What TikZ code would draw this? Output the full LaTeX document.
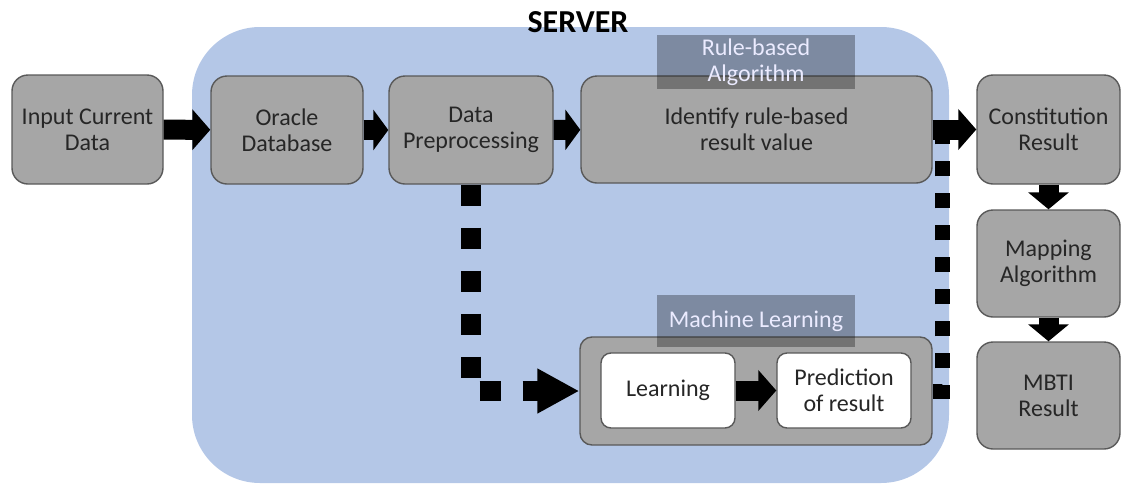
\documentclass[tikz,border=0pt]{standalone}
\usepackage{fontspec}
\setmainfont{Carlito}
\usetikzlibrary{arrows.meta}
\definecolor{srvblue}{HTML}{B4C7E7}
\definecolor{boxgray}{HTML}{A6A6A6}
\definecolor{edgegray}{HTML}{595959}
\tikzset{
  box/.style={draw=edgegray, line width=0.7pt, fill=boxgray, rounded corners=8pt, align=center, inner sep=0pt, text=black!85, font=\fontsize{12}{13}\selectfont},
  wbox/.style={box, fill=white, rounded corners=5pt},
  tag/.style={fill=black, fill opacity=0.3, text opacity=1, text=white!92!blue, align=center, inner sep=0pt, font=\fontsize{12}{13}\selectfont},
  blk/.style={line width=10pt, -{Triangle[length=9pt,width=20pt]}},
  dots/.style={line width=10pt, dash pattern=on 10.5pt off 11pt},
}
\begin{document}
\begin{tikzpicture}[x=0.5pt,y=-0.5pt]
\useasboundingbox (0,0) rectangle (1126,483);
% server area
\fill [srvblue, rounded corners=34pt] (192,27) rectangle (949,483);
\node (srv) at (578,22) {\fontsize{16}{16}\selectfont\bfseries SERVER};

\node (in) [box, minimum width=75.5pt, minimum height=54.5pt] at (87.5,129.5) {Input Current\\Data};
\node (oracle) [box, minimum width=76pt, minimum height=54pt] at (287,130) {Oracle\\Database};
\node (prep) [box, minimum width=82pt, minimum height=54pt] at (471,130) {Data\\Preprocessing};
\node (ident) [box, minimum width=175.5pt, minimum height=53.5pt] at (756.5,129.5) {Identify rule-based\\result value};
\node (const) [box, minimum width=71.5pt, minimum height=54.5pt] at (1048.5,129.5) {Constitution\\Result};
\node (mapping) [box, minimum width=71.5pt, minimum height=53.5pt] at (1048.5,263.5) {Mapping\\Algorithm};
\node (mbti) [box, minimum width=71.5pt, minimum height=53.5pt] at (1048.5,395.5) {MBTI\\Result};

\node (ml) [box, minimum width=176pt, minimum height=54pt, rounded corners=6pt] at (756,391) {};
\node (learn) [wbox, minimum width=67pt, minimum height=37.5pt] at (668,390.5) {Learning};
\node (pred) [wbox, minimum width=67pt, minimum height=37.5pt] at (844,390.5) {Prediction\\of result};

\node (rule) [tag, minimum width=99pt, minimum height=27pt] at (756,62) {Rule-based\\Algorithm};
\node (mltag) [tag, minimum width=99pt, minimum height=26pt] at (756,321) {Machine Learning};

% connectors
\coordinate (rjoin) at (942,140);
\draw [dots, line width=7.5pt, dash pattern=on 7.5pt off 8.5pt] (ml.east) -| (rjoin);
\draw [dots, -{Triangle[length=21pt,width=21pt]}] (prep.south) |- (ml.west);

\draw [blk] (in) -- (oracle);
\draw [blk, -{Triangle[length=7.5pt,width=20pt]}] (oracle) -- (prep);
\draw [blk, -{Triangle[length=7.5pt,width=20pt]}] (prep) -- (ident);
\draw [blk] (ident) -- (const);
\draw [blk, -{Triangle[length=8.5pt,width=20pt]}] (const) -- (mapping);
\draw [blk, -{Triangle[length=8.5pt,width=20pt]}] (mapping) -- (mbti);
\draw [blk] (learn) -- (pred);
\end{tikzpicture}
\end{document}
